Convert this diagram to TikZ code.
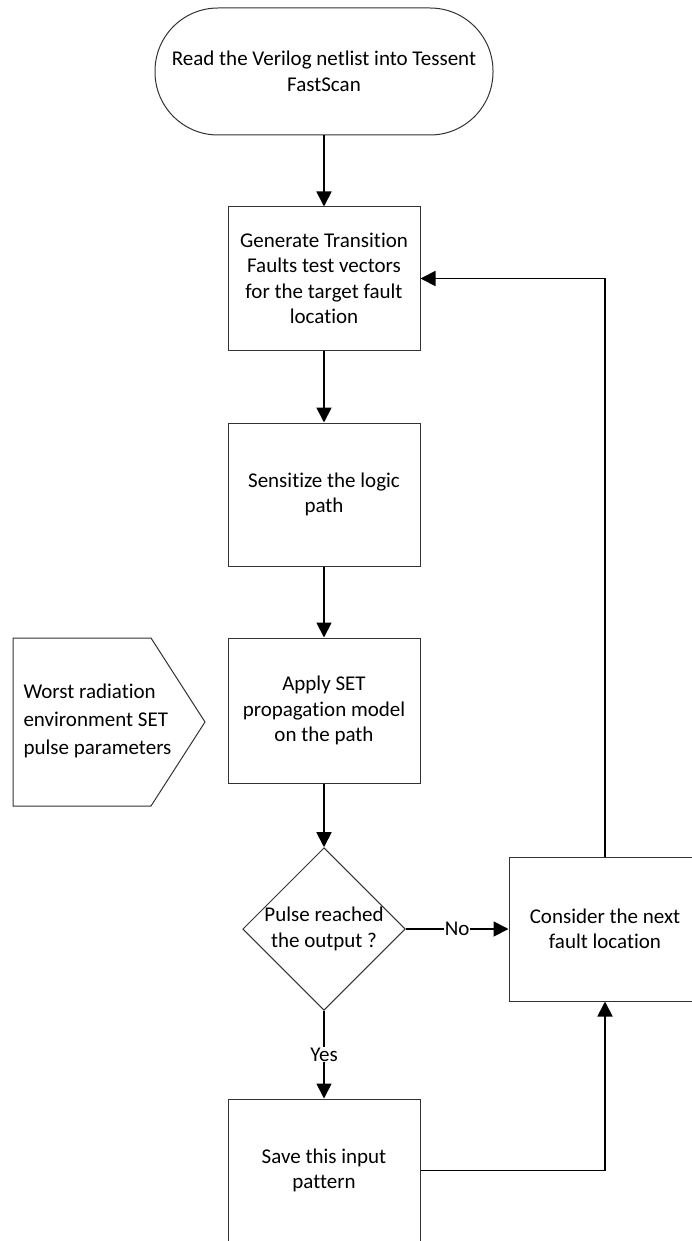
\documentclass[tikz,border=0pt]{standalone}
\usepackage{fontspec}
\setmainfont{Carlito}[Ligatures=NoCommon]
\usetikzlibrary{arrows.meta,shapes.geometric}
\begin{document}
\begin{tikzpicture}[x=1pt,y=-1pt,
  every node/.style={font=\fontsize{21}{25.5}\selectfont, align=center},
  box/.style={draw=black!80, line width=1pt, minimum width=192pt, minimum height=143pt, inner sep=2pt},
  term/.style={draw=black!80, line width=1pt, minimum width=338pt, minimum height=127pt, rounded corners=63pt},
  decision/.style={draw=black!80, line width=1pt, diamond, aspect=1, inner sep=0pt, minimum size=162pt},
  flow/.style={line width=1.8pt, -{Triangle[length=15pt,width=15pt]}},
  lbl/.style={fill=white, inner sep=1pt}]
\clip (0,0) rectangle (692,1241);
\fill[white] (0,0) rectangle (692,1241);

% process steps
\node[term] (start) at (324,71.5) {Read the Verilog netlist into Tessent\\FastScan};
\node[box] (gen) at (324,278.5) {Generate Transition\\Faults test vectors\\for the target fault\\location};
\node[box] (sens) at (324,494.5) {Sensitize the logic\\path};
\node[box, minimum height=145pt] (apply) at (324,710.5) {Apply SET\\propagation model\\on the path};
\node[decision] (dec) at (324,929) {Pulse reached\\the output ?};
\node[box, minimum height=144pt] (next) at (605,929) {Consider the next\\fault location};
\node[box] (save) at (324,1170.5) {Save this input\\pattern};

% input parameters (pentagon pointing right)
\draw[draw=black!80, line width=1pt] (13,638) -- (151,638) -- (205,722) -- (151,806) -- (13,806) -- cycle;
\node[align=left, anchor=west, font=\fontsize{21}{28}\selectfont] (params) at (20,721)
  {Worst radiation\\environment SET\\pulse parameters};

% connectors
\draw[flow] (start.south) -- (gen.north);
\draw[flow] (gen.south) -- (sens.north);
\draw[flow] (sens.south) -- (apply.north);
\draw[flow] (apply.south) -- (dec.north);
\draw[flow] (dec.east) -- node[lbl] {No} (next.west);
\draw[flow] (dec.south) -- node[lbl] {Yes} (save.north);
\draw[flow] (save.east) -| (next.south);
\draw[flow] (next.north) |- (gen.east);
\end{tikzpicture}
\end{document}
